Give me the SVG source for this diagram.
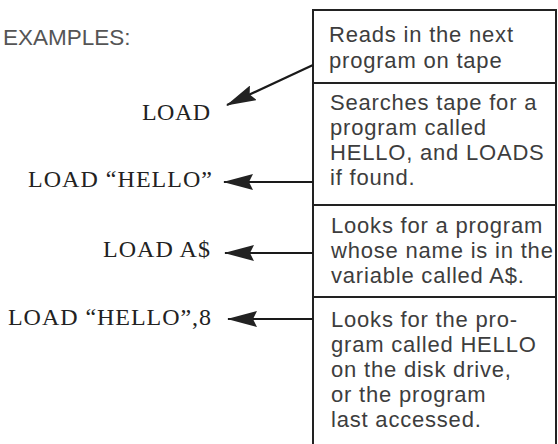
<svg xmlns="http://www.w3.org/2000/svg" width="558" height="444" viewBox="0 0 558 444">
<style>
.box{fill:none;stroke:#222;stroke-width:2}
.desc{font-family:"Liberation Sans",Arial,sans-serif;font-size:22px;fill:#3d3d3d;letter-spacing:0.8px}
.cmd{font-family:"Liberation Serif","Times New Roman",serif;font-size:24px;fill:#222;text-anchor:end}
.title{font-family:"Liberation Sans",Arial,sans-serif;font-size:22.5px;fill:#555}
.conn{stroke:#1a1a1a;stroke-width:2.2;fill:none;marker-end:url(#head)}
</style>
<defs>
<marker id="head" viewBox="0 0 30 16" refX="29" refY="8" markerWidth="30" markerHeight="16" markerUnits="userSpaceOnUse" orient="auto">
<path d="M0,0 L30,8 L0,16 L4,8 z" fill="#222"/>
</marker>
</defs>
<rect width="558" height="444" fill="#fff"/>
<g id="title"><text class="title" x="3" y="45">EXAMPLES:</text></g>
<g id="box">
<path class="box" d="M313,444 V10 H556 V444 M313,83 H556 M313,205 H556 M313,297 H556"/>
</g>
<g id="desc1"><text class="desc" x="329" y="42">Reads in the next</text><text class="desc" x="329" y="68">program on tape</text></g>
<g id="desc2"><text class="desc" x="330" y="110">Searches tape for a</text><text class="desc" x="330" y="135">program called</text><text class="desc" x="330" y="160">HELLO, and LOADS</text><text class="desc" x="330" y="185">if found.</text></g>
<g id="desc3"><text class="desc" x="331" y="233">Looks for a program</text><text class="desc" x="331" y="258">whose name is in the</text><text class="desc" x="331" y="283">variable called A$.</text></g>
<g id="desc4"><text class="desc" x="331" y="327">Looks for the pro-</text><text class="desc" x="331" y="352">gram called HELLO</text><text class="desc" x="331" y="377">on the disk drive,</text><text class="desc" x="331" y="402">or the program</text><text class="desc" x="331" y="427">last accessed.</text></g>
<g id="cmd1"><text class="cmd" x="210" y="120" textLength="68" lengthAdjust="spacing">LOAD</text></g>
<g id="cmd2"><text class="cmd" x="212" y="187" textLength="184" lengthAdjust="spacing">LOAD “HELLO”</text></g>
<g id="cmd3"><text class="cmd" x="210" y="257" textLength="107" lengthAdjust="spacing">LOAD A$</text></g>
<g id="cmd4"><text class="cmd" x="211" y="325" textLength="203" lengthAdjust="spacing">LOAD “HELLO”,8</text></g>
<g id="connectors">
<line class="conn" x1="313" y1="65" x2="227" y2="105"/>
<line class="conn" x1="313" y1="182" x2="224" y2="182"/>
<line class="conn" x1="313" y1="253" x2="225" y2="253"/>
<line class="conn" x1="313" y1="319" x2="228" y2="319"/>
</g>
</svg>
